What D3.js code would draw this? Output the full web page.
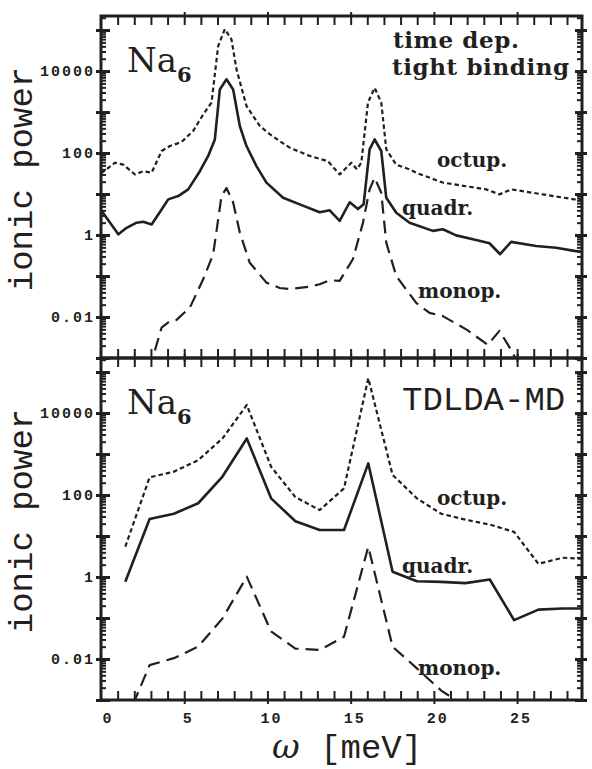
<!DOCTYPE html>
<html>
<head>
<meta charset="utf-8">
<script src="https://cdnjs.cloudflare.com/ajax/libs/d3/7.8.5/d3.min.js"></script>
<style>
	body { margin: 0; background: #fff; }
	.tick-label { font-family: "Liberation Mono", monospace; font-weight: bold; font-size: 15px; letter-spacing: 2px; fill: #231f20; }
	.axis-title { font-family: "Liberation Mono", monospace; font-size: 34px; fill: #231f20; }
	.curve-label { font-family: "DejaVu Serif", serif; font-weight: bold; font-size: 20px; fill: #231f20; }
	.method-label { font-family: "DejaVu Serif", serif; font-weight: bold; font-size: 23px; letter-spacing: 0.6px; fill: #231f20; }
	.panel-title { font-family: "DejaVu Serif", serif; font-size: 34px; fill: #231f20; }
</style>
</head>
<body>
<div id="chart"></div>
<script>

// upper panel: time dependent tight binding (omega in meV, ionic power)
var tbQuadrOmega = [0.0, 1.04, 1.54, 2.14, 2.54, 3.04, 3.64, 4.04, 4.64, 5.24, 5.94, 6.44, 6.84, 7.14, 7.54, 7.94, 8.34, 8.74, 9.34, 9.94, 10.94, 11.94, 13.14, 13.74, 14.34, 14.94, 15.44, 15.78, 16.14, 16.44, 16.84, 17.14, 17.74, 18.54, 19.94, 20.54, 21.34, 22.54, 23.34, 23.98, 24.64, 26.14, 27.34, 28.44, 28.9];
var tbQuadr = [4.1, 1.04, 1.5, 2.0, 2.1, 1.8, 4.2, 7.4, 8.9, 13, 36, 85, 214, 3550, 6300, 3550, 457, 148, 48, 19, 8.1, 5.6, 3.6, 4.0, 2.2, 6.3, 4.3, 5.6, 123, 214, 112, 8.1, 3.5, 2.0, 1.26, 1.38, 0.98, 0.76, 0.63, 0.34, 0.68, 0.54, 0.49, 0.41, 0.39];

var tbOctupOmega = [0.0, 0.84, 1.34, 2.04, 2.54, 3.04, 3.64, 4.14, 4.84, 5.54, 6.14, 6.64, 7.04, 7.44, 7.84, 8.14, 8.74, 9.54, 10.14, 10.74, 11.34, 12.54, 13.64, 14.34, 15.04, 15.38, 15.64, 16.04, 16.44, 16.84, 17.14, 17.74, 18.54, 18.94, 20.54, 23.14, 23.94, 24.64, 26.54, 28.44, 28.9];
var tbOctup = [32, 58, 52, 30, 36, 33, 112, 148, 186, 347, 871, 1700, 40700, 105000, 58900, 11000, 1410, 457, 288, 195, 135, 85, 63, 30, 58, 40, 58, 1700, 3900, 1700, 123, 52, 40, 33, 19, 13, 9.8, 13, 9.8, 7.4, 7.1];

var tbMonopOmega = [2.9, 3.14, 3.64, 4.14, 4.54, 5.34, 6.14, 6.74, 7.24, 7.54, 7.94, 8.34, 8.94, 9.94, 10.74, 11.34, 12.54, 13.14, 13.74, 14.34, 15.14, 15.74, 16.14, 16.44, 16.84, 17.14, 17.74, 18.94, 19.74, 20.54, 21.94, 23.24, 23.94, 24.74, 25.3];
var tbMonop = [0.00052, 0.00112, 0.0055, 0.0079, 0.0085, 0.017, 0.083, 0.34, 8.9, 14, 6.2, 1.15, 0.21, 0.069, 0.051, 0.048, 0.055, 0.063, 0.079, 0.076, 0.26, 2.0, 13, 25, 10.7, 0.65, 0.10, 0.022, 0.0126, 0.0105, 0.005, 0.0021, 0.0046, 0.00135, 0.0004];

// lower panel: TDLDA-MD, all three on the same omega grid
var ldaOmega = [1.46, 2.92, 4.38, 5.84, 7.30, 8.76, 10.22, 11.68, 13.14, 14.60, 16.06, 17.52, 18.98, 20.44, 21.90, 23.36, 24.82, 26.28, 27.74, 29.20];
var ldaQuadr = [0.77, 26, 35, 63, 282, 2400, 83, 23, 14, 14, 590, 1.35, 0.79, 0.76, 0.71, 0.87, 0.089, 0.16, 0.17, 0.17];
var ldaOctup = [5.5, 269, 372, 708, 2400, 15700, 490, 89, 43, 145, 70800, 309, 83, 35, 25, 19, 12.6, 2.1, 2.95, 2.75];
var ldaMonop = [0.00028, 0.0071, 0.0105, 0.020, 0.098, 1.02, 0.047, 0.018, 0.0166, 0.035, 5.5, 0.020, 0.0059, 0.0017, 0.0007];

var yTickValues = [0.01, 1, 100, 10000];
var yTickLabels = ["0.01", "1", "100", "10000"];
var xTickValues = [0, 5, 10, 15, 20, 25];
var xTickLabels = ["0", "5", "10", "15", "20", "25"];


var svg = d3.select("#chart").append("svg")
	.attr("width", 592)
	.attr("height", 769);

var x = d3.scaleLinear()
	.domain([0, 28.9])
	.range([101, 582]);

var ink = "#231f20";


/*
 * PowerVis - one panel of the ionic power spectrum
 */

PowerVis = function(_svg, _top, _bottom, _name, _series, _labels, _showX){
	this.svg = _svg;
	this.top = _top;
	this.bottom = _bottom;
	this.name = _name;
	this.series = _series;
	this.labels = _labels;
	this.showX = _showX;

	this.initVis();
}

PowerVis.prototype.initVis = function(){
	var vis = this;

	vis.y = d3.scaleLog()
		.domain([1e-3, 2.2e5])
		.range([vis.bottom, vis.top]);

	vis.g = vis.svg.append("g").attr("class", "panel-" + vis.name);

	vis.g.append("clipPath")
		.attr("id", "clip-" + vis.name)
		.append("rect")
		.attr("x", x.range()[0])
		.attr("y", vis.top)
		.attr("width", x.range()[1] - x.range()[0])
		.attr("height", vis.bottom - vis.top);

	// curves
	var line = d3.line()
		.x(function(d){ return x(d[0]); })
		.y(function(d){ return vis.y(d[1]); });

	vis.g.append("g")
		.attr("clip-path", "url(#clip-" + vis.name + ")")
		.selectAll("path")
		.data(vis.series)
		.enter()
		.append("path")
		.attr("d", function(s){
			return line(d3.zip(s.omega, s.values));
		})
		.attr("fill", "none")
		.attr("stroke", ink)
		.attr("stroke-width", function(s){ return s.style == "solid" ? 2.6 : 2.2; })
		.attr("stroke-dasharray", function(s){
			if (s.style == "dotted") return "4.5,3";
			if (s.style == "dashed") return "13,7";
			return null;
		})
		.attr("stroke-linejoin", "round");

	// minor/major log ticks
	var minor = [];
	var major = [];
	for (var e = -3; e <= 5; e++) {
		major.push(Math.pow(10, e));
		for (var m = 2; m <= 9; m++) {
			var v = m * Math.pow(10, e);
			if (v < vis.y.domain()[1]) minor.push(v);
		}
	}

	var xr = x.range();

	// left axis
	vis.g.append("g")
		.attr("transform", "translate(" + xr[0] + ",0)")
		.call(d3.axisRight(vis.y).tickValues(minor).tickSize(5).tickFormat(""));
	var leftMajor = vis.g.append("g")
		.attr("transform", "translate(" + xr[0] + ",0)")
		.call(d3.axisRight(vis.y).tickValues(major).tickSize(9).tickFormat(""));
	leftMajor.selectAll(".tick line").attr("x1", -5).attr("stroke-width", 3);

	// right axis
	vis.g.append("g")
		.attr("transform", "translate(" + xr[1] + ",0)")
		.call(d3.axisLeft(vis.y).tickValues(minor).tickSize(5).tickFormat(""));
	var rightMajor = vis.g.append("g")
		.attr("transform", "translate(" + xr[1] + ",0)")
		.call(d3.axisLeft(vis.y).tickValues(major).tickSize(7).tickFormat(""));
	rightMajor.selectAll(".tick line").attr("x1", 5).attr("stroke-width", 3);

	// omega ticks, top and bottom of the panel
	var xMinor = d3.range(1, 29);
	var topAxis = vis.g.append("g")
		.attr("transform", "translate(0," + vis.top + ")")
		.call(d3.axisBottom(x).tickValues(xMinor).tickSize(9).tickFormat(""));
	topAxis.selectAll(".tick line")
		.attr("y1", function(d){ return d % 5 == 0 ? -4 : 0; });
	var bottomAxis = vis.g.append("g")
		.attr("transform", "translate(0," + vis.bottom + ")")
		.call(d3.axisTop(x).tickValues(xMinor).tickSize(9).tickFormat(""));
	bottomAxis.selectAll(".tick line")
		.attr("y1", function(d){ return d % 5 == 0 ? 4 : 0; });

	vis.g.selectAll(".domain").remove();
	vis.g.selectAll(".tick line")
		.attr("stroke", ink)
		.filter(function(){ return !d3.select(this).attr("stroke-width"); })
		.attr("stroke-width", 2);

	// frame
	vis.g.append("rect")
		.attr("x", xr[0])
		.attr("y", vis.top)
		.attr("width", xr[1] - xr[0])
		.attr("height", vis.bottom - vis.top)
		.attr("fill", "none")
		.attr("stroke", ink)
		.attr("stroke-width", 3);

	// y tick labels
	vis.g.selectAll(".ylab")
		.data(yTickValues)
		.enter()
		.append("text")
		.attr("class", "tick-label")
		.attr("x", 95)
		.attr("y", function(d){ return vis.y(d); })
		.attr("dy", "0.36em")
		.attr("text-anchor", "end")
		.text(function(d, i){ return yTickLabels[i]; });

	if (vis.showX) {
		vis.g.selectAll(".xlab")
			.data(xTickValues)
			.enter()
			.append("text")
			.attr("class", "tick-label")
			.attr("x", function(d){ return x(d) + (d == 0 ? 7 : 4); })
			.attr("y", vis.bottom + 23)
			.attr("text-anchor", "middle")
			.text(function(d, i){ return xTickLabels[i]; });
	}

	// y title
	vis.g.append("text")
		.attr("class", "axis-title")
		.attr("transform", "translate(32," + (vis.top + (vis.bottom - vis.top) / 2 - 8) + ") rotate(-90)")
		.attr("text-anchor", "middle")
		.text("ionic power");

	// Na6
	var na = vis.g.append("text")
		.attr("class", "panel-title")
		.attr("x", 127)
		.attr("y", vis.top + 56);
	na.append("tspan").text("Na");
	na.append("tspan")
		.attr("dy", 10)
		.attr("font-size", 21)
		.attr("font-weight", "bold")
		.text("6");

	// curve and method labels
	vis.g.selectAll(".clab")
		.data(vis.labels)
		.enter()
		.append("text")
		.attr("class", function(d){ return d.cls; })
		.attr("x", function(d){ return d.x; })
		.attr("y", function(d){ return vis.top + d.dy; })
		.text(function(d){ return d.text; });
}


var upper = new PowerVis(svg, 16, 358, "tb", [
	{ omega: tbOctupOmega, values: tbOctup, style: "dotted" },
	{ omega: tbQuadrOmega, values: tbQuadr, style: "solid" },
	{ omega: tbMonopOmega, values: tbMonop, style: "dashed" }
], [
	{ text: "time dep.", x: 393, dy: 32, cls: "method-label" },
	{ text: "tight binding", x: 392, dy: 59, cls: "method-label" },
	{ text: "octup.", x: 437, dy: 151, cls: "curve-label" },
	{ text: "quadr.", x: 402, dy: 199, cls: "curve-label" },
	{ text: "monop.", x: 418, dy: 282, cls: "curve-label" }
], false);

var lower = new PowerVis(svg, 358, 700, "lda", [
	{ omega: ldaOmega, values: ldaOctup, style: "dotted" },
	{ omega: ldaOmega, values: ldaQuadr, style: "solid" },
	{ omega: ldaOmega.slice(0, ldaMonop.length), values: ldaMonop, style: "dashed" }
], [
	{ text: "TDLDA-MD", x: 402, dy: 52, cls: "axis-title" },
	{ text: "octup.", x: 437, dy: 147, cls: "curve-label" },
	{ text: "quadr.", x: 402, dy: 215, cls: "curve-label" },
	{ text: "monop.", x: 418, dy: 317, cls: "curve-label" }
], true);

// omega axis title
var xt = svg.append("text")
	.attr("class", "axis-title")
	.attr("x", 272)
	.attr("y", 758);
xt.append("tspan")
	.attr("font-family", "DejaVu Serif")
	.attr("font-style", "italic")
	.text("ω");
xt.append("tspan").text(" [meV]");

</script>
</body>
</html>
